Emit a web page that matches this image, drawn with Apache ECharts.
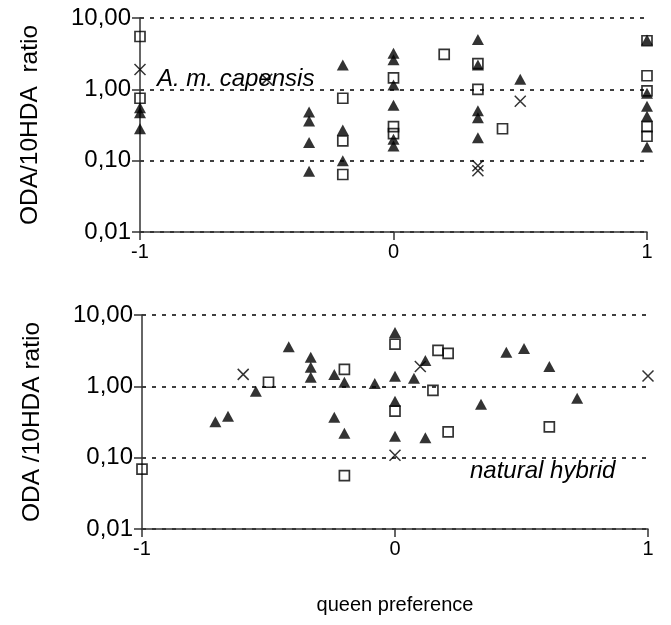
<!DOCTYPE html>
<html><head><meta charset="utf-8">
<script src="https://cdn.jsdelivr.net/npm/echarts@6/dist/echarts.min.js"></script>
<style>html,body{margin:0;padding:0;background:#fff}#c{width:671px;height:625px}</style>
</head><body><div id="c"></div>
<script>
// x-axis ticks
const xTicks = [-1, 0, 1];
// y-axis decades
const yTicks = [0.01, 0.1, 1, 10];

// Top panel: A. m. capensis  [queen preference, ODA/10HDA ratio]
const topTriangles = [
  [-1, 0.55], [-1, 0.47], [-1, 0.28],
  [-0.333, 0.48], [-0.333, 0.36], [-0.333, 0.18], [-0.333, 0.071],
  [-0.2, 2.2], [-0.2, 0.27], [-0.2, 0.10],
  [0, 3.2], [0, 2.6], [0, 1.15], [0, 0.6], [0, 0.2], [0, 0.16],
  [0.333, 5.0], [0.333, 2.2], [0.333, 0.5], [0.333, 0.4], [0.333, 0.21],
  [0.5, 1.38],
  [1, 4.9], [1, 0.88], [1, 0.58], [1, 0.42], [1, 0.155]
];
const topSquares = [
  [-1, 5.5], [-1, 0.75],
  [-0.2, 0.75], [-0.2, 0.19], [-0.2, 0.064],
  [0, 1.45], [0, 0.3], [0, 0.24],
  [0.2, 3.1],
  [0.333, 2.3], [0.333, 1.0],
  [0.43, 0.28],
  [1, 4.8], [1, 1.55], [1, 0.95], [1, 0.3], [1, 0.22]
];
const topCrosses = [
  [-1, 1.9], [-0.5, 1.38], [0.5, 0.68], [0.333, 0.085], [0.333, 0.072]
];

// Bottom panel: natural hybrid
const bottomTriangles = [
  [-0.71, 0.32], [-0.66, 0.38], [-0.55, 0.85], [-0.42, 3.6],
  [-0.333, 2.55], [-0.333, 1.85], [-0.333, 1.34],
  [-0.24, 1.47], [-0.24, 0.37], [-0.2, 1.14], [-0.2, 0.22], [-0.08, 1.1],
  [0, 5.7], [0, 1.38], [0, 0.62], [0, 0.2],
  [0.075, 1.3], [0.12, 2.3], [0.12, 0.19],
  [0.34, 0.56], [0.44, 3.0], [0.51, 3.4], [0.61, 1.9], [0.72, 0.68]
];
const bottomSquares = [
  [-1, 0.069], [-0.5, 1.14], [-0.2, 1.73], [-0.2, 0.056],
  [0, 3.9], [0, 0.45], [0.15, 0.88], [0.17, 3.2], [0.21, 2.9], [0.21, 0.23],
  [0.61, 0.27]
];
const bottomCrosses = [
  [-0.6, 1.47], [0, 0.108], [0.1, 1.9], [1, 1.4]
];

const FONT = 'Liberation Sans, Arial, sans-serif';
const AX = '#333';
const fmtY = v => {
  const d = yTicks.reduce((a, b) => Math.abs(Math.log10(b) - Math.log10(v)) < Math.abs(Math.log10(a) - Math.log10(v)) ? b : a);
  return d.toFixed(2).replace('.', ',');
};

function xAxis(idx, withName) {
  return {
    gridIndex: idx, type: 'value', min: xTicks[0], max: xTicks[xTicks.length - 1], interval: 1,
    axisLine: { show: true, onZero: false, lineStyle: { color: AX, width: 1.5 } },
    axisTick: { show: true, length: 8, lineStyle: { color: AX, width: 1.5 } },
    axisLabel: { fontSize: 20, color: '#000', fontFamily: FONT, margin: 10 },
    splitLine: { show: false },
    name: withName ? 'queen preference' : '',
    nameLocation: 'middle', nameGap: 66,
    nameTextStyle: { fontSize: 20, color: '#000', fontFamily: FONT }
  };
}
function yAxis(idx, name) {
  return {
    gridIndex: idx, type: 'log', logBase: 10, min: yTicks[0], max: yTicks[yTicks.length - 1],
    axisLine: { show: true, onZero: false, lineStyle: { color: AX, width: 1.5 } },
    axisTick: { show: true, length: 8, lineStyle: { color: AX, width: 1.5 } },
    axisLabel: { fontSize: 24, color: '#000', fontFamily: FONT, margin: 9, formatter: fmtY },
    splitLine: { show: true, lineStyle: { color: '#000', width: 1.5, type: [4, 6] } },
    name: name, nameLocation: 'middle', nameGap: 97, nameRotate: 90,
    nameTextStyle: { fontSize: 24.5, color: '#000', fontFamily: FONT }
  };
}
const crossPath = 'path://M0,0L10,10M0,10L10,0';
function tri(idx, data) {
  return { type: 'scatter', xAxisIndex: idx, yAxisIndex: idx, data, symbol: 'triangle',
    symbolSize: [12, 11], itemStyle: { color: '#000' }, z: 3 };
}
function sq(idx, data) {
  return { type: 'scatter', xAxisIndex: idx, yAxisIndex: idx, data, symbol: 'rect',
    symbolSize: 10, itemStyle: { color: 'rgba(255,255,255,0)', borderColor: '#000', borderWidth: 1.7 }, z: 4 };
}
function cr(idx, data) {
  return { type: 'scatter', xAxisIndex: idx, yAxisIndex: idx, data, symbol: crossPath,
    symbolSize: 11, itemStyle: { color: 'none', borderColor: '#000', borderWidth: 1.5 }, z: 5 };
}

const chart = echarts.init(document.getElementById('c'), null, { renderer: 'canvas' });
chart.setOption({
  animation: false,
  backgroundColor: '#fff',
  grid: [
    { left: 140, right: 24, top: 18, height: 214 },
    { left: 142, right: 23, top: 315, height: 214 }
  ],
  xAxis: [xAxis(0, false), xAxis(1, true)],
  yAxis: [yAxis(0, 'ODA/10HDA  ratio'), yAxis(1, 'ODA /10HDA ratio')],
  graphic: [
    { type: 'text', left: 157, top: 67, z: 2,
      style: { text: 'A. m. capensis', font: 'italic 24px ' + FONT, fill: '#000' } },
    { type: 'text', left: 470, top: 459, z: 2,
      style: { text: 'natural hybrid', font: 'italic 24px ' + FONT, fill: '#000' } }
  ],
  series: [
    tri(0, topTriangles), sq(0, topSquares), cr(0, topCrosses),
    tri(1, bottomTriangles), sq(1, bottomSquares), cr(1, bottomCrosses)
  ]
});
</script></body></html>
